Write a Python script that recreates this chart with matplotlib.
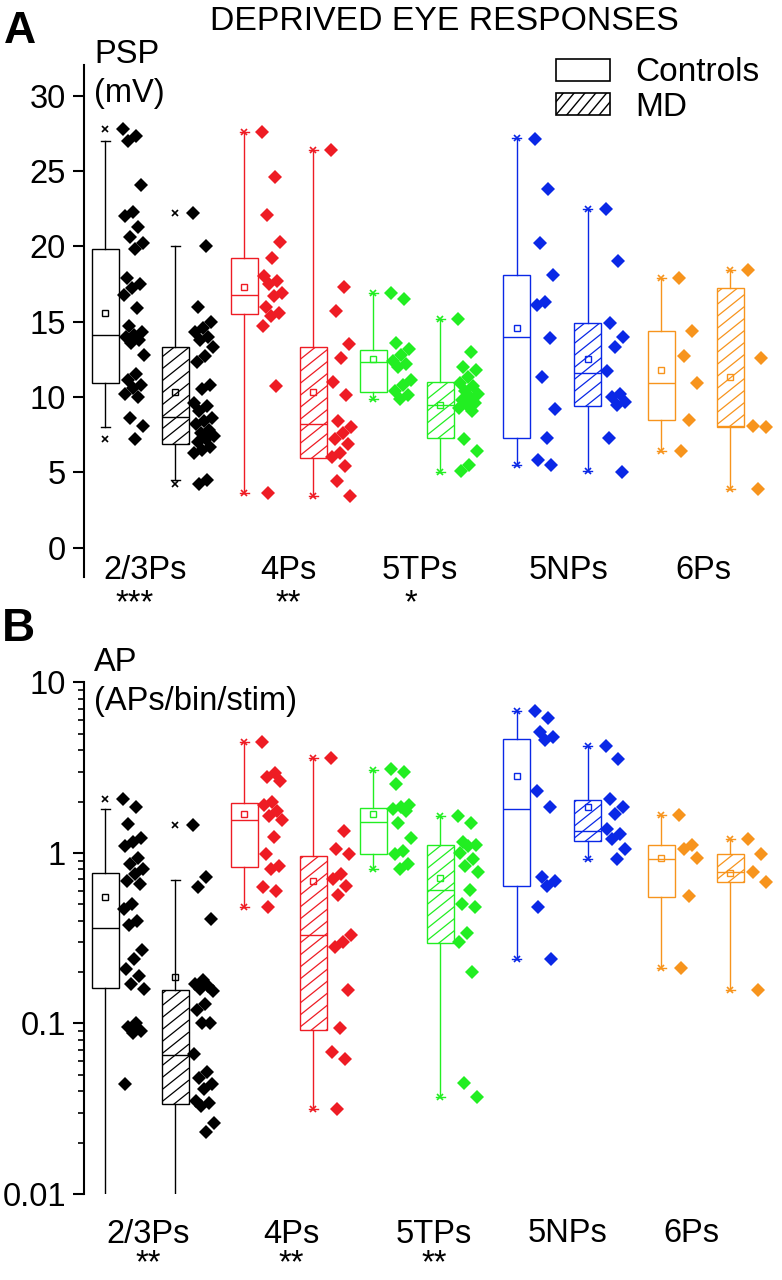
import matplotlib
matplotlib.use("Agg")
import matplotlib.pyplot as plt
from matplotlib.patches import Rectangle
from matplotlib.lines import Line2D
from matplotlib.transforms import IdentityTransform
from matplotlib.ticker import LogLocator, NullFormatter, FixedLocator
import math

plt.rcParams['font.family'] = ['Liberation Sans', 'DejaVu Sans']

# ---------------- data ----------------
groups = ["2/3Ps", "4Ps", "5TPs", "5NPs", "6Ps"]
colors = ['#000000', '#ee1c24', '#22ee22', '#0a28e6', '#f7941d']
psp_stars = ["***", "**", "*", "", ""]
ap_stars = ["**", "**", "**", "", ""]
psp_ticks = [0, 5, 10, 15, 20, 25, 30]
ap_ticks = [0.01, 0.1, 1, 10]
ap_tick_labels = ["0.01", "0.1", "1", "10"]

# box statistics: (whisker low, q1, median, q3, whisker high, mean, min, max)
psp_ctrl_box = [
    (8.0, 10.9, 14.1, 19.8, 27.0, 15.6, 7.2, 27.8),
    (3.6, 15.5, 16.8, 19.2, 27.6, 17.3, 3.6, 27.6),
    (9.9, 10.3, 12.3, 13.1, 16.9, 12.5, 9.9, 16.9),
    (5.5, 7.3, 14.0, 18.1, 27.2, 14.6, 5.5, 27.2),
    (6.4, 8.5, 10.9, 14.4, 17.9, 11.8, 6.4, 17.9),
]
psp_md_box = [
    (4.5, 6.9, 8.7, 13.3, 20.0, 10.3, 4.2, 22.2),
    (3.4, 5.95, 8.2, 13.3, 26.4, 10.3, 3.4, 26.4),
    (5.05, 7.3, 9.5, 11.0, 15.2, 9.5, 5.05, 15.2),
    (5.1, 9.4, 11.6, 14.9, 22.5, 12.5, 5.1, 22.5),
    (3.9, 8.0, 8.1, 17.2, 18.4, 11.35, 3.9, 18.4),
]
nan = float('nan')
ap_ctrl_box = [
    (0.001, 0.161, 0.365, 0.76, 1.80, 0.55, nan, 2.08),
    (0.48, 0.824, 1.57, 1.96, 4.45, 1.69, 0.48, 4.45),
    (0.805, 0.98, 1.52, 1.83, 3.08, 1.70, 0.805, 3.08),
    (0.238, 0.637, 1.82, 4.66, 6.82, 2.82, 0.238, 6.82),
    (0.212, 0.554, 0.927, 1.11, 1.68, 0.93, 0.212, 1.68),
]
ap_md_box = [
    (0.001, 0.0335, 0.065, 0.158, 0.69, 0.188, nan, 1.45),
    (0.0316, 0.092, 0.329, 0.96, 3.58, 0.684, 0.0316, 3.58),
    (0.037, 0.296, 0.608, 1.11, 1.64, 0.713, 0.037, 1.64),
    (0.916, 1.18, 1.34, 2.05, 4.25, 1.87, 0.916, 4.25),
    (0.158, 0.676, 0.778, 0.99, 1.2, 0.76, 0.158, 1.2),
]

# individual cells
psp_ctrl_pts = [
    [27.8, 27.3, 27.0, 24.1, 22.3, 22.0, 21.3, 20.6, 20.2, 19.8, 17.9, 17.5, 17.2, 16.8, 15.9,
     14.7, 14.3, 14.1, 14.0, 13.8, 13.6, 12.8, 11.5, 11.1, 10.8, 10.6, 10.2, 10.0, 8.6, 8.1, 7.2],
    [27.6, 24.6, 22.1, 20.3, 19.2, 18.0, 17.7, 17.5, 16.9, 16.7, 16.0, 15.6, 15.4, 14.7, 10.7, 3.6],
    [16.9, 16.5, 13.6, 13.2, 12.8, 12.4, 12.2, 12.0, 11.1, 10.8, 10.4, 10.1, 9.9],
    [27.1, 23.8, 20.2, 18.1, 16.3, 16.1, 13.9, 11.35, 9.2, 7.3, 5.8, 5.5],
    [17.9, 14.4, 12.7, 10.9, 8.5, 6.4],
]
psp_md_pts = [
    [22.2, 20.0, 16.0, 15.0, 14.6, 14.3, 14.0, 13.8, 13.3, 12.7, 12.3, 10.8, 10.5, 9.6, 9.4,
     9.1, 8.6, 8.4, 8.2, 7.8, 7.6, 7.4, 7.2, 7.0, 6.7, 6.5, 6.3, 4.5, 4.2],
    [26.4, 17.3, 15.7, 13.5, 12.6, 11.0, 10.1, 8.4, 8.0, 7.6, 7.2, 6.9, 6.3, 6.0, 5.4, 4.4, 3.4],
    [15.2, 13.0, 12.0, 11.8, 11.3, 10.9, 10.7, 10.4, 10.2, 10.0, 9.8, 9.6, 9.5, 9.3, 9.1,
     7.2, 6.4, 5.5, 5.1],
    [22.5, 19.0, 14.9, 14.0, 13.3, 11.7, 10.2, 10.0, 9.7, 9.5, 7.3, 5.0],
    [18.4, 12.6, 8.1, 8.0, 3.9],
]
ap_ctrl_pts = [
    [2.08, 1.85, 1.48, 1.23, 1.16, 1.1, 0.93, 0.86, 0.8, 0.75, 0.68, 0.66, 0.5, 0.47, 0.4,
     0.38, 0.27, 0.24, 0.21, 0.19, 0.17, 0.16, 0.1, 0.095, 0.09, 0.088, 0.044],
    [4.45, 2.95, 2.8, 2.63, 2.0, 1.9, 1.75, 1.65, 1.55, 1.24, 0.99, 0.84, 0.81, 0.63, 0.6, 0.48],
    [3.1, 3.0, 2.55, 1.9, 1.85, 1.8, 1.75, 1.5, 1.22, 1.03, 0.98, 0.86, 0.81],
    [6.8, 6.2, 5.1, 4.8, 4.6, 2.3, 1.85, 0.72, 0.68, 0.64, 0.48, 0.24],
    [1.68, 1.12, 1.06, 0.94, 0.556, 0.212],
]
ap_md_pts = [
    [1.45, 0.72, 0.63, 0.41, 0.18, 0.17, 0.165, 0.16, 0.155, 0.13, 0.12, 0.1, 0.1, 0.066,
     0.052, 0.048, 0.044, 0.041, 0.035, 0.034, 0.033, 0.026, 0.023],
    [3.58, 1.34, 1.06, 0.98, 0.75, 0.70, 0.64, 0.57, 0.33, 0.30, 0.28, 0.158, 0.094, 0.068,
     0.062, 0.0316],
    [1.64, 1.5, 1.16, 1.12, 1.1, 1.0, 0.92, 0.84, 0.77, 0.61, 0.5, 0.48, 0.34, 0.3, 0.2,
     0.045, 0.037],
    [4.25, 3.56, 2.08, 1.85, 1.7, 1.38, 1.30, 1.2, 1.06, 0.92],
    [1.2, 0.99, 0.77, 0.676, 0.158],
]

# ---------------- layout (pixel based) ----------------
W, H = 782, 1280
ctrl_pos = [105.3, 244.3, 373.0, 516.7, 661.0]
md_pos = [175.0, 313.3, 440.3, 587.5, 730.2]
box_w = 27
cap_w = 9
pt_off0 = 18
pt_spread = 21
label_x_A = [145, 288, 420, 569, 703]
label_x_B = [148, 291, 434, 568, 691]
star_x_A = [135, 288, 411, 0, 0]
FS = 23.5


def fx(x):
    return x / W


def fy(y):
    return 1 - y / H


fig = plt.figure(figsize=(W / 100, H / 100), dpi=100)
fig.patch.set_facecolor('white')

axA = fig.add_axes([fx(84), fy(577), (W - 84) / W, (577 - 65) / H])
axB = fig.add_axes([fx(84), fy(1194), (W - 84) / W, (1194 - 682.4) / H])


def add_hatch(container, patch, color, spacing=12.0, slope=0.8, lw=0.9):
    """Diagonal hatch lines drawn in pixel space, clipped to the patch."""
    ext = patch.get_path().transformed(patch.get_transform()).get_extents()
    x0, y0, x1, y1 = ext.x0, ext.y0, ext.x1, ext.y1
    w = x1 - x0
    c = y0 - slope * w
    while c < y1:
        ln = Line2D([x0, x1], [c, c + slope * w], transform=IdentityTransform(),
                    color=color, lw=lw, zorder=patch.get_zorder() + 0.01)
        ln.set_clip_path(patch)
        container.add_artist(ln)
        c += spacing


def style_axis(ax):
    for s in ['top', 'right', 'bottom']:
        ax.spines[s].set_visible(False)
    ax.spines['left'].set_linewidth(1.5)
    ax.set_xlim(84, W)
    ax.tick_params(axis='x', bottom=False, labelbottom=False)
    ax.tick_params(axis='y', which='major', labelsize=FS, length=8, width=1.5, pad=5)
    ax.patch.set_alpha(0)


def draw_panel(ax, ctrl_box, md_box, ctrl_pts, md_pts):
    for i, c in enumerate(colors):
        for stats, pos, pts, hatched in ((ctrl_box[i], ctrl_pos[i], ctrl_pts[i], False),
                                         (md_box[i], md_pos[i], md_pts[i], True)):
            wlo, q1, med, q3, whi, mean, mn, mx = stats
            st = dict(whislo=wlo, q1=q1, med=med, q3=q3, whishi=whi, mean=mean, fliers=[])
            bp = ax.bxp([st], positions=[pos], widths=box_w, patch_artist=True, showmeans=True,
                        showfliers=False, capwidths=cap_w, manage_ticks=False,
                        boxprops=dict(facecolor='white', edgecolor=c, linewidth=1.0),
                        whiskerprops=dict(color=c, linewidth=1.0),
                        capprops=dict(color=c, linewidth=1.0),
                        medianprops=dict(color=c, linewidth=1.0),
                        meanprops=dict(marker='s', markerfacecolor='none', markeredgecolor=c,
                                       markersize=4.5, markeredgewidth=1.0))
            if hatched:
                add_hatch(ax, bp['boxes'][0], c)
            ext = [v for v in (mn, mx) if not math.isnan(v)]
            ax.plot([pos] * len(ext), ext, linestyle='none', marker='x', color=c,
                    ms=5, mew=1.2, zorder=3, clip_on=False)
            xs = [pos + pt_off0 + ((k * 0.618034) % 1.0) * pt_spread for k in range(len(pts))]
            ax.plot(xs, pts, linestyle='none', marker='D', ms=7.5, color=c, mew=0, zorder=4)


# Panel A
style_axis(axA)
axA.set_ylim(-1.944, 32.03)
axA.set_yticks(psp_ticks)
draw_panel(axA, psp_ctrl_box, psp_md_box, psp_ctrl_pts, psp_md_pts)

# Panel B
style_axis(axB)
axB.set_yscale('log')
axB.set_ylim(0.01, 10)
axB.yaxis.set_major_locator(FixedLocator(ap_ticks))
axB.set_yticklabels(ap_tick_labels)
axB.yaxis.set_minor_locator(LogLocator(base=10, subs=[2, 3, 4, 5, 6, 7, 8, 9]))
axB.yaxis.set_minor_formatter(NullFormatter())
axB.tick_params(axis='y', which='minor', length=4, width=1.2)
draw_panel(axB, ap_ctrl_box, ap_md_box, ap_ctrl_pts, ap_md_pts)

# ---------------- texts ----------------
fig.text(fx(444), fy(30), "DEPRIVED EYE RESPONSES", ha='center', va='baseline', fontsize=24.3)
fig.text(fx(4), fy(43), "A", ha='left', va='baseline', fontsize=32, fontweight='bold')
fig.text(fx(94), fy(63), "PSP", ha='left', va='baseline', fontsize=FS)
fig.text(fx(94), fy(102), "(mV)", ha='left', va='baseline', fontsize=FS)
fig.text(fx(2), fy(641), "B", ha='left', va='baseline', fontsize=33, fontweight='bold')
fig.text(fx(94), fy(671), "AP", ha='left', va='baseline', fontsize=FS)
fig.text(fx(94), fy(710), "(APs/bin/stim)", ha='left', va='baseline', fontsize=FS)

for i, g in enumerate(groups):
    fig.text(fx(label_x_A[i]), fy(579), g, ha='center', va='baseline', fontsize=FS)
    if psp_stars[i]:
        fig.text(fx(star_x_A[i]), fy(612), psp_stars[i], ha='center', va='baseline', fontsize=FS)
    if ap_stars[i]:
        # label and significance stars as one two-line text
        fig.text(fx(label_x_B[i]), fy(1279.5), g + "\n" + ap_stars[i], ha='center',
                 va='bottom', multialignment='center', linespacing=0.95, fontsize=FS)
    else:
        fig.text(fx(label_x_B[i]), fy(1242), g, ha='center', va='baseline', fontsize=FS)

# legend
leg_ctrl = Rectangle((fx(556), fy(81)), 54 / W, 22.5 / H, transform=fig.transFigure,
                     facecolor='white', edgecolor='black', linewidth=1.2)
leg_md = Rectangle((fx(556), fy(115)), 54 / W, 22 / H, transform=fig.transFigure,
                   facecolor='white', edgecolor='black', linewidth=1.2)
fig.add_artist(leg_ctrl)
fig.add_artist(leg_md)
add_hatch(fig, leg_md, 'black', spacing=13.0, slope=1.2, lw=1.0)
fig.text(fx(635), fy(81), "Controls", ha='left', va='baseline', fontsize=24)
fig.text(fx(635), fy(116), "MD", ha='left', va='baseline', fontsize=24)

fig.savefig("out.png", dpi=100, facecolor='white')
